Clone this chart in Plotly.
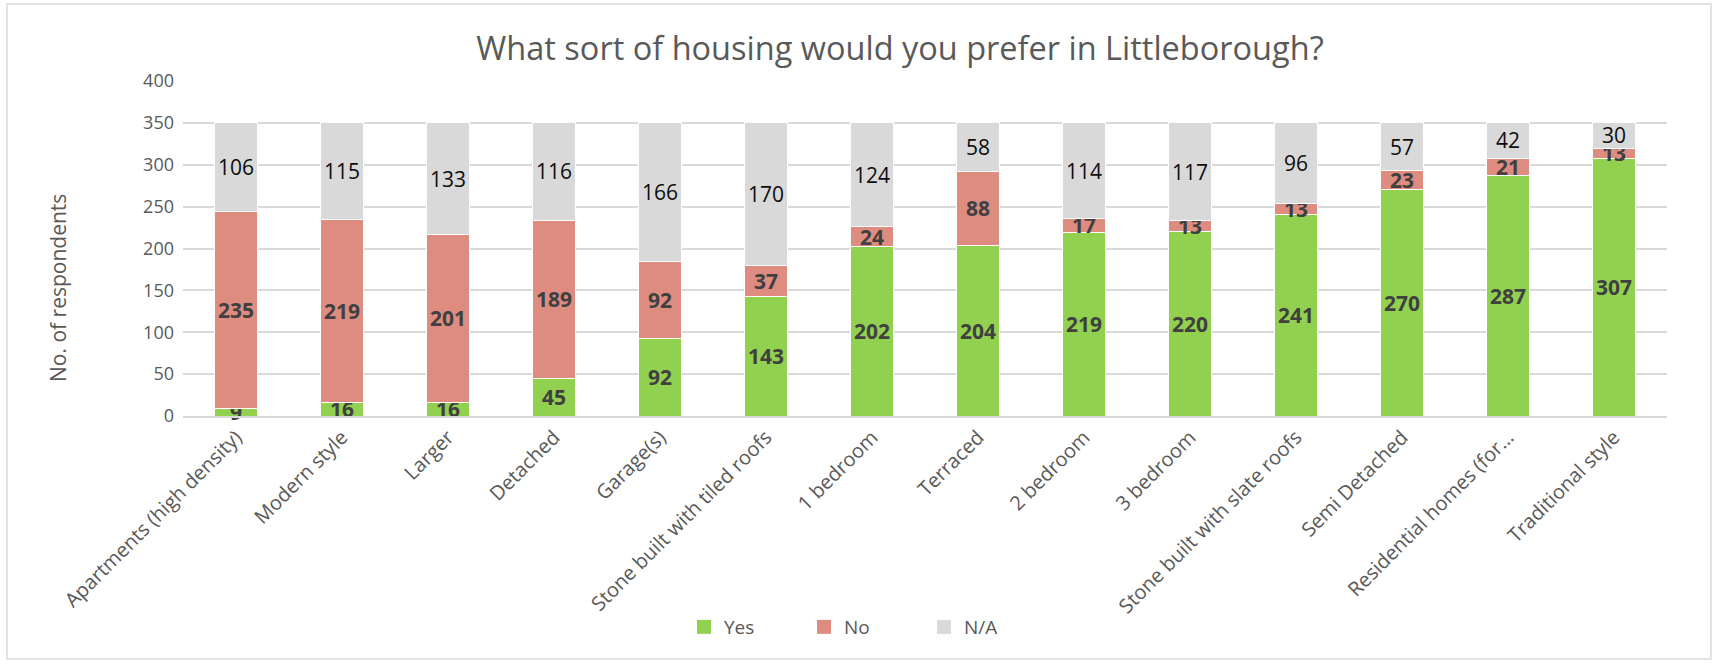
import plotly.graph_objects as go

categories = [
    "Apartments (high density)", "Modern style", "Larger", "Detached", "Garage(s)",
    "Stone built with tiled roofs", "1 bedroom", "Terraced", "2 bedroom", "3 bedroom",
    "Stone built with slate roofs", "Semi Detached", "Residential homes (for\u2026",
    "Traditional style",
]
yes_values = [9, 16, 16, 45, 92, 143, 202, 204, 219, 220, 241, 270, 287, 307]
no_values = [235, 219, 201, 189, 92, 37, 24, 88, 17, 13, 13, 23, 21, 13]
na_values = [106, 115, 133, 116, 166, 170, 124, 58, 114, 117, 96, 57, 42, 30]

FONT = "Open Sans"
W, H = 1719, 664
ML, MR, MT, MB = 183, 52, 81, 248

series = [
    ("Yes", yes_values, "#92D050", dict(family=FONT, size=21, color="#404040", weight="bold")),
    ("No", no_values, "#DF8C80", dict(family=FONT, size=21, color="#404040", weight="bold")),
    ("N/A", na_values, "#D9D9D9", dict(family=FONT, size=21, color="#0D0D0D")),
]

fig = go.Figure()
for name, vals, color, tfont in series:
    fig.add_trace(go.Bar(
        name=name, x=categories, y=vals, showlegend=False,
        marker=dict(color=color, line=dict(color="white", width=1)),
        text=[str(v) for v in vals], textposition="inside",
        insidetextanchor="middle", textangle=0, textfont=tfont,
        constraintext="none", cliponaxis=False,
    ))
# legend keys: larger square swatches than the default bar symbol
for name, vals, color, tfont in series:
    fig.add_trace(go.Scatter(
        name=name, x=[None], y=[None], mode="markers",
        marker=dict(symbol="square", size=14, color=color),
    ))

# helpers: page pixels -> paper fractions of the plot area
pw, ph = W - ML - MR, H - MT - MB
def px_x(x):
    return (x - ML) / pw
def px_y(y):
    return (H - MB - y) / ph

fig.update_layout(
    barmode="stack", bargap=0.6,
    width=W, height=H,
    margin=dict(l=ML, r=MR, t=MT, b=MB),
    paper_bgcolor="white", plot_bgcolor="white",
    uniformtext=dict(minsize=21, mode="show"),
    title=dict(text="What sort of housing would you prefer in Littleborough?",
               xref="paper", x=px_x(900), xanchor="center",
               yref="container", y=1 - 49 / H, yanchor="middle",
               font=dict(family=FONT, size=32.5, color="#595959")),
    xaxis=dict(tickangle=-45, tickfont=dict(family=FONT, size=20, color="#595959"),
               showline=True, linecolor="#D9D9D9", linewidth=1.5, ticks=""),
    yaxis=dict(range=[0, 400], dtick=50, showgrid=True, gridcolor="#D9D9D9",
               gridwidth=1.5, zeroline=False,
               tickfont=dict(family=FONT, size=18, color="#595959"), ticks="",
               ticklabelstandoff=8),
    legend=dict(orientation="h", traceorder="normal", x=px_x(684), xanchor="left",
                y=px_y(627), yanchor="middle",
                font=dict(family=FONT, size=19, color="#595959"),
                itemwidth=30, entrywidth=75),
    annotations=[dict(text="No. of respondents", textangle=-90, showarrow=False,
                      xref="paper", yref="paper", x=px_x(58), y=px_y(288),
                      xanchor="center", yanchor="middle",
                      font=dict(family=FONT, size=21, color="#595959"))],
    shapes=[dict(type="rect", xref="paper", yref="paper",
                 x0=px_x(7), x1=px_x(1711), y0=px_y(659), y1=px_y(4),
                 line=dict(color="#D9D9D9", width=1.5), layer="below")],
)

fig.write_html("out.html")
